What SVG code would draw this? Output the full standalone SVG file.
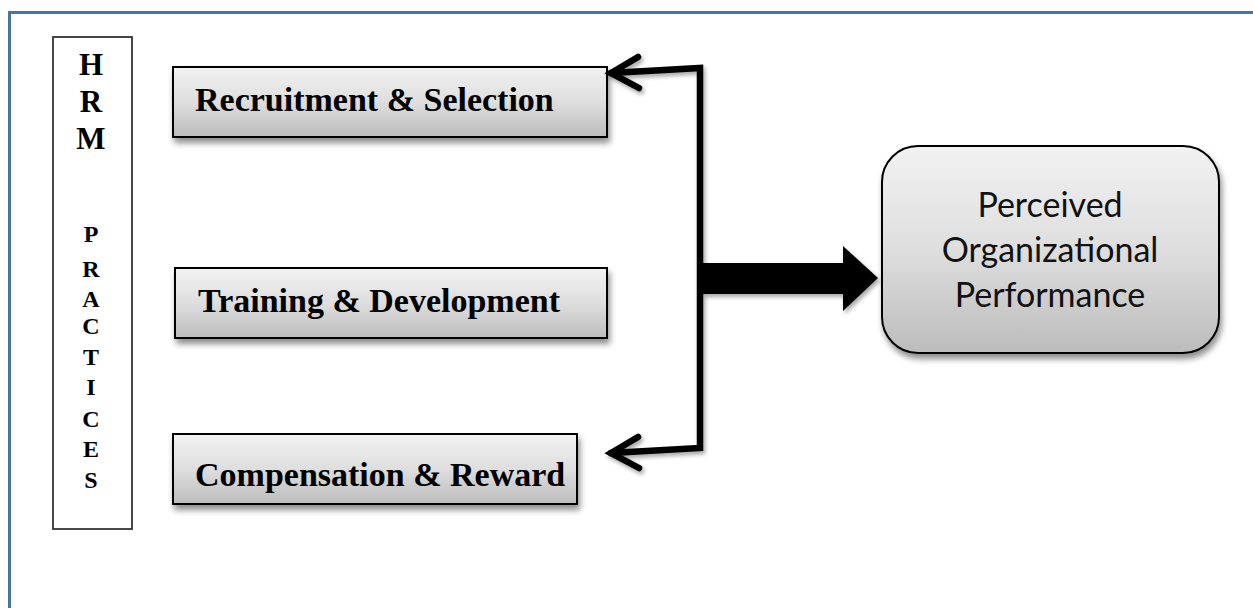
<svg xmlns="http://www.w3.org/2000/svg" width="1253" height="608" viewBox="0 0 1253 608">
<defs>
<linearGradient id="g" x1="0" y1="0" x2="0" y2="1">
<stop offset="0" stop-color="#f2f2f2"/>
<stop offset="0.5" stop-color="#dedede"/>
<stop offset="1" stop-color="#bcbcbc"/>
</linearGradient>
<filter id="sh" x="-10%" y="-20%" width="125%" height="160%">
<feGaussianBlur in="SourceAlpha" stdDeviation="3"/>
<feOffset dx="2" dy="5" result="b"/>
<feComponentTransfer><feFuncA type="linear" slope="0.45"/></feComponentTransfer>
<feMerge><feMergeNode/><feMergeNode in="SourceGraphic"/></feMerge>
</filter>
<filter id="ash" x="-20%" y="-20%" width="150%" height="150%">
<feGaussianBlur in="SourceAlpha" stdDeviation="2"/>
<feOffset dx="2" dy="3"/>
<feComponentTransfer><feFuncA type="linear" slope="0.35"/></feComponentTransfer>
<feMerge><feMergeNode/><feMergeNode in="SourceGraphic"/></feMerge>
</filter>
</defs>
<style>
.box{fill:url(#g);stroke:#000;stroke-width:2;filter:url(#sh)}
.lbl{font-family:"Liberation Serif","Times New Roman",serif;font-weight:bold;font-size:34px;fill:#000}
.v{font-family:"Liberation Serif","Times New Roman",serif;font-weight:bold;fill:#000;text-anchor:middle}
.conn{fill:none;stroke:#000;stroke-width:6.5;stroke-linecap:round;stroke-linejoin:miter}
.pt{font-family:Lato,"Open Sans",sans-serif;font-size:34px;fill:#111;text-anchor:middle}
</style>
<rect width="1253" height="608" fill="#fff"/>
<rect id="frame" x="9.5" y="12.5" width="1260" height="620" fill="none" stroke="#4a73a2" stroke-width="3"/>

<g id="hrm">
<rect x="53" y="37" width="79" height="492" fill="#fff" stroke="#333" stroke-width="1.8"/>
<g class="v" font-size="31">
<text x="91" y="75">H</text>
<text x="91" y="112">R</text>
<text x="91" y="149">M</text>
</g>
<g class="v" font-size="24">
<text x="91" y="242">P</text>
<text x="91" y="277">R</text>
<text x="91" y="307">A</text>
<text x="91" y="334">C</text>
<text x="91" y="365">T</text>
<text x="91" y="395">I</text>
<text x="91" y="427">C</text>
<text x="91" y="457">E</text>
<text x="91" y="488">S</text>
</g>
</g>

<g id="recruitment">
<rect class="box" x="173" y="67" width="434" height="70"/>
<text class="lbl" x="195" y="111">Recruitment &amp; Selection</text>
</g>

<g id="training">
<rect class="box" x="175" y="268" width="432" height="70"/>
<text class="lbl" x="198" y="312">Training &amp; Development</text>
</g>

<g id="compensation">
<rect class="box" x="173" y="434" width="404" height="70"/>
<text class="lbl" x="195" y="486">Compensation &amp; Reward</text>
</g>

<g id="performance">
<rect class="box" x="882" y="146" width="337" height="207" rx="36" ry="36"/>
<text class="pt" x="1050" y="217">Perceived</text>
<text class="pt" x="1050" y="262">Organizational</text>
<text class="pt" x="1050" y="307">Performance</text>
</g>

<g id="connectors" filter="url(#ash)">
<path class="conn" d="M611 73 L700 68 L700 448 L611 453"/>
<path class="conn" d="M638 57 L611 73 L639 88"/>
<path class="conn" d="M638 437 L611 453 L639 468"/>
<polygon points="700,263 843,263 843,246 878,278 843,311 843,294 700,294" fill="#000"/>
</g>
</svg>
